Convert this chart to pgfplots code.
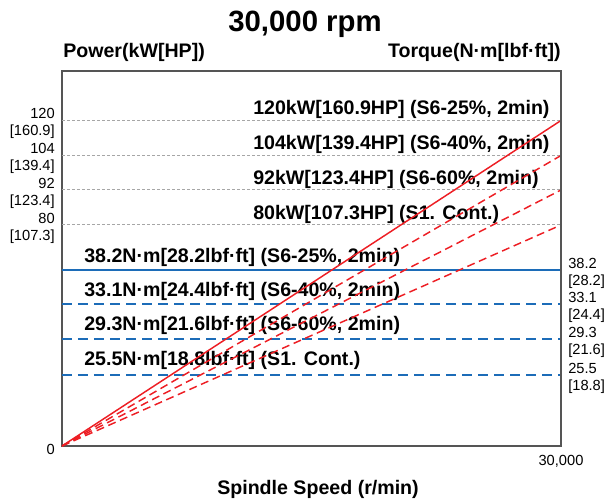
\documentclass[border=0pt]{standalone}
\usepackage{pgfplots}
\pgfplotsset{compat=1.18}
\usepackage{fontspec}
\setmainfont{Liberation Sans}
\definecolor{pred}{RGB}{237,30,36}
\definecolor{tblue}{RGB}{28,108,184}
\definecolor{framec}{RGB}{85,85,85}
\begin{document}
\begin{tikzpicture}
\path[use as bounding box] (-46.5pt,-42.75pt) rectangle (415.5pt,334.5pt);
\begin{axis}[
  at={(0pt,0pt)}, anchor=south west,
  scale only axis, width=374.25pt, height=281.25pt,
  xmin=0, xmax=30000, ymin=0, ymax=375,
  axis line style={framec, line width=1.1pt},
  major tick length=0pt,
  scaled ticks=false,
  xtick={30000}, xticklabels={30{,}000},
  xticklabel style={font=\fontsize{11}{13}\selectfont, yshift=-3.5pt},
  ytick={0,221,256,290.5,325.5},
  yticklabels={0,{80\\{}[107.3]},{92\\{}[123.4]},{104\\{}[139.4]},{120\\{}[160.9]}},
  yticklabel style={align=right, font=\fontsize{11}{12.75}\selectfont, inner sep=0pt, xshift=-5.25pt, yshift=-2.5pt},
  ytick pos=left, xtick pos=bottom,
]
% grid lines at power levels
\addplot[gray!70, line width=0.75pt, dash pattern=on 2.25pt off 1.5pt] coordinates {(0,325.5) (30000,325.5)};
\addplot[gray!70, line width=0.75pt, dash pattern=on 2.25pt off 1.5pt] coordinates {(0,290.5) (30000,290.5)};
\addplot[gray!70, line width=0.75pt, dash pattern=on 2.25pt off 1.5pt] coordinates {(0,256) (30000,256)};
\addplot[gray!70, line width=0.75pt, dash pattern=on 2.25pt off 1.5pt] coordinates {(0,221) (30000,221)};
% texts
\begin{scope}[every node/.style={font=\bfseries\fontsize{14.7}{17}\selectfont, inner sep=0pt, anchor=base west}]
\node at (axis cs:11483,331.7) {120kW[160.9HP] (S6-25\%, 2min)};
\node at (axis cs:11483,296.7) {104kW[139.4HP] (S6-40\%, 2min)};
\node at (axis cs:11483,261.7) {92kW[123.4HP] (S6-60\%, 2min)};
\node at (axis cs:11483,226.7) {80kW[107.3HP] (S1. Cont.)};
\node at (axis cs:1323,183.7) {38.2N·m[28.2lbf·ft] (S6-25\%, 2min)};
\node at (axis cs:1323,149.3) {33.1N·m[24.4lbf·ft] (S6-40\%, 2min)};
\node at (axis cs:1323,115.3) {29.3N·m[21.6lbf·ft] (S6-60\%, 2min)};
\node at (axis cs:1323,81) {25.5N·m[18.8lbf·ft] (S1. Cont.)};
\end{scope}
% torque lines
\addplot[tblue, line width=1.5pt] coordinates {(0,176) (30000,176)};
\addplot[tblue, line width=1.5pt, dash pattern=on 7.5pt off 4.5pt] coordinates {(0,141.7) (30000,141.7)};
\addplot[tblue, line width=1.5pt, dash pattern=on 7.5pt off 4.5pt] coordinates {(0,106.7) (30000,106.7)};
\addplot[tblue, line width=1.5pt, dash pattern=on 7.5pt off 4.5pt] coordinates {(0,71.3) (30000,71.3)};
% power lines
\addplot[pred, line width=1.1pt] coordinates {(0,0) (30000,325.5)};
\addplot[pred, line width=1.1pt, dash pattern=on 6pt off 3.5pt] coordinates {(0,0) (30000,290.5)};
\addplot[pred, line width=1.1pt, dash pattern=on 6pt off 3.5pt] coordinates {(0,0) (30000,256)};
\addplot[pred, line width=1.1pt, dash pattern=on 6pt off 3.5pt] coordinates {(0,0) (30000,221)};
\end{axis}
\begin{axis}[
  at={(0pt,0pt)}, anchor=south west,
  scale only axis, width=374.25pt, height=281.25pt,
  xmin=0, xmax=30000, ymin=0, ymax=375,
  axis x line=none, axis y line*=right,
  axis line style={framec, line width=1.1pt},
  major tick length=0pt,
  ytick={71.3,106.7,141.7,176},
  yticklabels={{25.5\\{}[18.8]},{29.3\\{}[21.6]},{33.1\\{}[24.4]},{38.2\\{}[28.2]}},
  yticklabel style={align=left, font=\fontsize{11}{12.75}\selectfont, inner sep=0pt, xshift=5.25pt, yshift=-2.6pt},
]
\addplot[draw=none] coordinates {(0,0)};
\end{axis}
\node[font=\bfseries\fontsize{22}{26}\selectfont, anchor=base, inner sep=0pt] at (182.25pt,310.5pt) {30,000 rpm};
\node[font=\bfseries\fontsize{14.7}{17}\selectfont, anchor=base west, inner sep=0pt] at (0.75pt,291.5pt) {Power(kW[HP])};
\node[font=\bfseries\fontsize{14.7}{17}\selectfont, anchor=base east, inner sep=0pt] at (374.25pt,291.5pt) {Torque(N·m[lbf·ft])};
\node[font=\bfseries\fontsize{14.7}{17}\selectfont, anchor=base, inner sep=0pt] at (192pt,-36pt) {Spindle Speed (r/min)};
\end{tikzpicture}
\end{document}
